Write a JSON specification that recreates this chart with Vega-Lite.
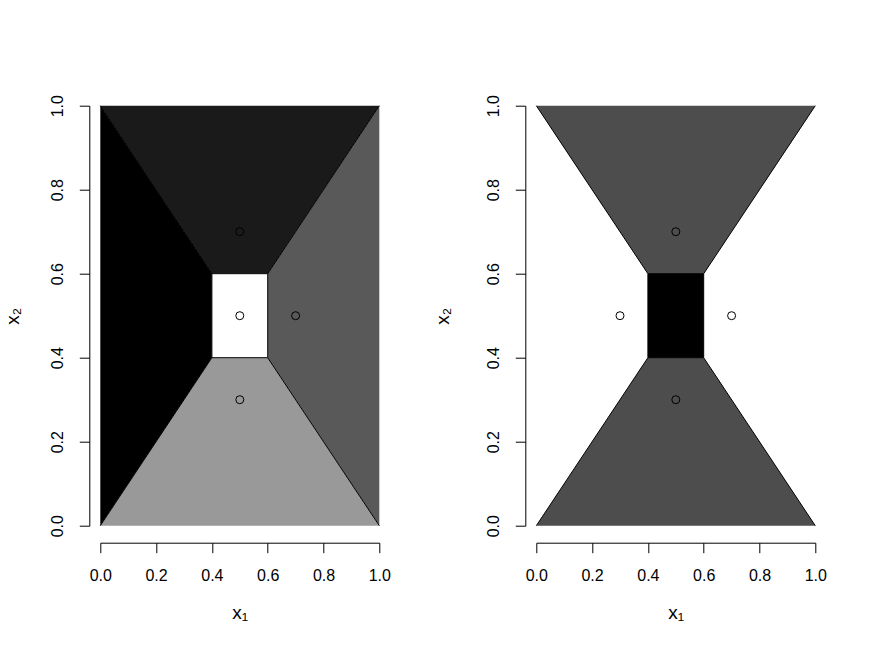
{
  "$schema": "https://vega.github.io/schema/vega-lite/v6.json",
  "background": "white",
  "autosize": {"type": "none"},
  "padding": {"left": 100.3, "top": 105.7, "right": 771.7, "bottom": 548.3},
  "config": {
    "view": {"stroke": null},
    "font": "Liberation Sans",
    "axis": {
      "grid": false,
      "domainColor": "black",
      "domainWidth": 1,
      "tickColor": "black",
      "tickWidth": 1,
      "tickSize": 10,
      "labelColor": "black",
      "labelFont": "Liberation Sans",
      "labelFontSize": 16,
      "titleColor": "black",
      "titleFont": "Liberation Sans",
      "titleFontSize": 19,
      "titleFontWeight": "normal",
      "labelFlush": false,
      "labelOverlap": false
    }
  },
  "datasets": {
    "regions": [
      {"panel": 1, "region": "A", "x": 0, "y": 0, "y2": 1},
      {"panel": 1, "region": "A", "x": 0.4, "y": 0.4, "y2": 0.6},
      {"panel": 1, "region": "B", "x": 0, "y": 1, "y2": 1},
      {"panel": 1, "region": "B", "x": 0.4, "y": 0.6, "y2": 1},
      {"panel": 1, "region": "B", "x": 0.6, "y": 0.6, "y2": 1},
      {"panel": 1, "region": "B", "x": 1, "y": 1, "y2": 1},
      {"panel": 1, "region": "C", "x": 0.6, "y": 0.4, "y2": 0.6},
      {"panel": 1, "region": "C", "x": 1, "y": 0, "y2": 1},
      {"panel": 1, "region": "D", "x": 0, "y": 0, "y2": 0},
      {"panel": 1, "region": "D", "x": 0.4, "y": 0, "y2": 0.4},
      {"panel": 1, "region": "D", "x": 0.6, "y": 0, "y2": 0.4},
      {"panel": 1, "region": "D", "x": 1, "y": 0, "y2": 0},
      {"panel": 1, "region": "E", "x": 0.4, "y": 0.4, "y2": 0.6},
      {"panel": 1, "region": "E", "x": 0.6, "y": 0.4, "y2": 0.6},
      {"panel": 2, "region": "F", "x": 0, "y": 1, "y2": 1},
      {"panel": 2, "region": "F", "x": 0.4, "y": 0.6, "y2": 1},
      {"panel": 2, "region": "F", "x": 0.6, "y": 0.6, "y2": 1},
      {"panel": 2, "region": "F", "x": 1, "y": 1, "y2": 1},
      {"panel": 2, "region": "G", "x": 0, "y": 0, "y2": 0},
      {"panel": 2, "region": "G", "x": 0.4, "y": 0, "y2": 0.4},
      {"panel": 2, "region": "G", "x": 0.6, "y": 0, "y2": 0.4},
      {"panel": 2, "region": "G", "x": 1, "y": 0, "y2": 0},
      {"panel": 2, "region": "H", "x": 0.4, "y": 0.4, "y2": 0.6},
      {"panel": 2, "region": "H", "x": 0.6, "y": 0.4, "y2": 0.6}
    ],
    "segs": [
      {"seg": "s1", "o": 0, "x": 0, "y": 1},
      {"seg": "s1", "o": 1, "x": 0.4, "y": 0.6},
      {"seg": "s2", "o": 0, "x": 1, "y": 1},
      {"seg": "s2", "o": 1, "x": 0.6, "y": 0.6},
      {"seg": "s3", "o": 0, "x": 0, "y": 0},
      {"seg": "s3", "o": 1, "x": 0.4, "y": 0.4},
      {"seg": "s4", "o": 0, "x": 1, "y": 0},
      {"seg": "s4", "o": 1, "x": 0.6, "y": 0.4},
      {"seg": "s5", "o": 0, "x": 0.4, "y": 0.4},
      {"seg": "s5", "o": 1, "x": 0.4, "y": 0.6},
      {"seg": "s5", "o": 2, "x": 0.6, "y": 0.6},
      {"seg": "s5", "o": 3, "x": 0.6, "y": 0.4},
      {"seg": "s5", "o": 4, "x": 0.4, "y": 0.4}
    ],
    "pts": [
      {"panel": 1, "x": 0.5, "y": 0.7},
      {"panel": 1, "x": 0.5, "y": 0.5},
      {"panel": 1, "x": 0.7, "y": 0.5},
      {"panel": 1, "x": 0.5, "y": 0.3},
      {"panel": 2, "x": 0.5, "y": 0.7},
      {"panel": 2, "x": 0.3, "y": 0.5},
      {"panel": 2, "x": 0.7, "y": 0.5},
      {"panel": 2, "x": 0.5, "y": 0.3}
    ]
  },
  "spacing": 157,
  "bounds": "flush",
  "hconcat": [
    {
      "width": 279,
      "height": 420,
      "encoding": {
        "x": {"field": "x", "type": "quantitative",
              "scale": {"domain": [0, 1], "nice": false, "zero": false},
              "axis": {"title": "x₁", "values": [0, 0.2, 0.4, 0.6, 0.8, 1], "format": ".1f", "offset": 17,
                       "labelPadding": 28, "labelBaseline": "alphabetic",
                       "titleX": 139.5, "titleY": 76, "titleBaseline": "alphabetic", "titleAlign": "center"}},
        "y": {"field": "y", "type": "quantitative",
              "scale": {"domain": [0, 1], "nice": false, "zero": false},
              "axis": {"title": "x₂", "values": [0, 0.2, 0.4, 0.6, 0.8, 1], "format": ".1f", "offset": 11,
                       "labelAngle": -90, "labelAlign": "center", "labelBaseline": "alphabetic", "labelPadding": 16.5,
                       "titleAngle": -90, "titleX": -71, "titleY": 210, "titleBaseline": "alphabetic", "titleAlign": "center"}}
      },
      "layer": [
        {
          "data": {"name": "regions"},
          "transform": [{"filter": "datum.panel == 1"}],
          "mark": {"type": "area", "orient": "vertical", "opacity": 1, "fillOpacity": 1, "line": false},
          "encoding": {
            "y2": {"field": "y2"},
            "color": {"field": "region", "type": "nominal", "legend": null,
                      "scale": {"domain": ["A", "B", "C", "D", "E", "F", "G", "H"],
                                "range": ["#000000", "#1a1a1a", "#595959", "#999999", "#ffffff", "#4d4d4d", "#4d4d4d", "#000000"]}}
          }
        },
        {
          "data": {"name": "segs"},
          "mark": {"type": "line", "stroke": "black", "strokeWidth": 1},
          "encoding": {
            "detail": {"field": "seg", "type": "nominal"},
            "order": {"field": "o", "type": "quantitative"}
          }
        },
        {
          "data": {"name": "pts"},
          "transform": [{"filter": "datum.panel == 1"}],
          "mark": {"type": "point", "shape": "circle", "filled": false, "stroke": "black", "strokeWidth": 1, "size": 64, "opacity": 1}
        }
      ]
    },
    {
      "width": 279,
      "height": 420,
      "encoding": {
        "x": {"field": "x", "type": "quantitative",
              "scale": {"domain": [0, 1], "nice": false, "zero": false},
              "axis": {"title": "x₁", "values": [0, 0.2, 0.4, 0.6, 0.8, 1], "format": ".1f", "offset": 17,
                       "labelPadding": 28, "labelBaseline": "alphabetic",
                       "titleX": 139.5, "titleY": 76, "titleBaseline": "alphabetic", "titleAlign": "center"}},
        "y": {"field": "y", "type": "quantitative",
              "scale": {"domain": [0, 1], "nice": false, "zero": false},
              "axis": {"title": "x₂", "values": [0, 0.2, 0.4, 0.6, 0.8, 1], "format": ".1f", "offset": 11,
                       "labelAngle": -90, "labelAlign": "center", "labelBaseline": "alphabetic", "labelPadding": 16.5,
                       "titleAngle": -90, "titleX": -77, "titleY": 210, "titleBaseline": "alphabetic", "titleAlign": "center"}}
      },
      "layer": [
        {
          "data": {"name": "regions"},
          "transform": [{"filter": "datum.panel == 2"}],
          "mark": {"type": "area", "orient": "vertical", "opacity": 1, "fillOpacity": 1, "line": false},
          "encoding": {
            "y2": {"field": "y2"},
            "color": {"field": "region", "type": "nominal", "legend": null,
                      "scale": {"domain": ["A", "B", "C", "D", "E", "F", "G", "H"],
                                "range": ["#000000", "#1a1a1a", "#595959", "#999999", "#ffffff", "#4d4d4d", "#4d4d4d", "#000000"]}}
          }
        },
        {
          "data": {"name": "segs"},
          "mark": {"type": "line", "stroke": "black", "strokeWidth": 1},
          "encoding": {
            "detail": {"field": "seg", "type": "nominal"},
            "order": {"field": "o", "type": "quantitative"}
          }
        },
        {
          "data": {"name": "pts"},
          "transform": [{"filter": "datum.panel == 2"}],
          "mark": {"type": "point", "shape": "circle", "filled": false, "stroke": "black", "strokeWidth": 1, "size": 64, "opacity": 1}
        }
      ]
    }
  ]
}
